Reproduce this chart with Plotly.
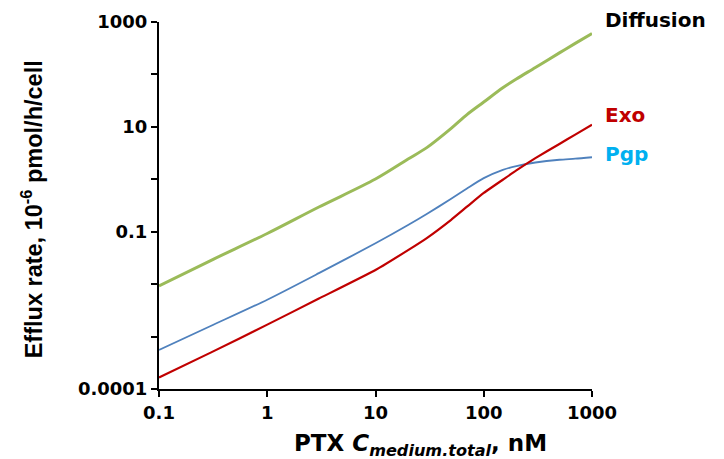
import plotly.graph_objects as go

# Data (log-log)
conc_nM = [0.1, 0.3, 1, 3, 10, 20, 30, 50, 70, 100, 150, 200, 300, 500, 700, 1000]
diffusion = [0.00923, 0.0282, 0.0925, 0.296, 1.01, 2.43, 4.06, 9.35, 17.1, 29.7, 55.6, 81.8, 135.5, 258, 391, 604]
pgp = [0.000555, 0.00159, 0.00505, 0.0162, 0.0601, 0.134, 0.220, 0.425, 0.667, 1.05, 1.51, 1.79, 2.09, 2.36, 2.47, 2.63]
exo = [0.000166, 0.000494, 0.00169, 0.0053, 0.0186, 0.0446, 0.0766, 0.169, 0.300, 0.548, 0.98, 1.48, 2.53, 4.72, 7.11, 11.0]

x_tickvals = [0.1, 1, 10, 100, 1000]
x_ticktext = ["0.1", "1", "10", "100", "1000"]
y_tickvals = [0.0001, 0.001, 0.01, 0.1, 1, 10, 100, 1000]
y_ticktext = ["0.0001", "", "", "0.1", "", "10", "", "1000"]

GREEN = "#9BBB59"
BLUE = "#4F81BD"
RED = "#C00000"
CYAN = "#00B0F0"
WIDE = "DejaVu Sans"
ARIAL = "Liberation Sans"

fig = go.Figure()
fig.add_trace(go.Scatter(x=conc_nM, y=diffusion, mode="lines", name="Diffusion",
                         line=dict(color=GREEN, width=3, shape="spline", smoothing=0.9)))
fig.add_trace(go.Scatter(x=conc_nM, y=pgp, mode="lines", name="Pgp",
                         line=dict(color=BLUE, width=1.8, shape="spline", smoothing=0.7)))
fig.add_trace(go.Scatter(x=conc_nM, y=exo, mode="lines", name="Exo",
                         line=dict(color=RED, width=2.2, shape="spline", smoothing=0.4)))

fig.update_layout(
    width=716, height=451,
    margin=dict(l=151, r=132, t=14, b=70),
    paper_bgcolor="white", plot_bgcolor="white",
    showlegend=False,
    font=dict(family=WIDE, color="black"),
)
fig.update_xaxes(type="log", range=[-1, 3], tickvals=x_tickvals, ticktext=x_ticktext,
                 automargin=False,
                 showgrid=False, zeroline=False, showline=True, linecolor="black", linewidth=2,
                 ticks="outside", ticklen=6, tickwidth=1.5, tickcolor="black",
                 tickfont=dict(family=WIDE, size=18, color="black", weight="bold"))
fig.update_yaxes(type="log", range=[-4, 3], tickvals=y_tickvals, ticktext=y_ticktext,
                 automargin=False,
                 showgrid=False, zeroline=False, showline=True, linecolor="black", linewidth=2,
                 ticks="outside", ticklen=6, tickwidth=1.5, tickcolor="black",
                 tickfont=dict(family=WIDE, size=18, color="black", weight="bold"))

annotations = [
    dict(text="<b>Diffusion</b>", x=1.025, y=1.005, xref="paper", yref="paper",
         xanchor="left", yanchor="middle", showarrow=False,
         font=dict(family=WIDE, size=20, color="black")),
    dict(text="<b>Exo</b>", x=1.025, y=0.747, xref="paper", yref="paper",
         xanchor="left", yanchor="middle", showarrow=False,
         font=dict(family=WIDE, size=20, color=RED)),
    dict(text="<b>Pgp</b>", x=1.025, y=0.640, xref="paper", yref="paper",
         xanchor="left", yanchor="middle", showarrow=False,
         font=dict(family=WIDE, size=20, color=CYAN)),
    dict(text="<b>PTX <i>C<sub>medium.total</sub></i>, nM</b>", x=0.603, y=-0.152,
         xref="paper", yref="paper", xanchor="center", yanchor="middle", showarrow=False,
         font=dict(family=WIDE, size=23, color="black")),
    dict(text="<b>Efflux rate, 10<sup>-6</sup> pmol/h/cell</b>", x=-0.293, y=0.49,
         xref="paper", yref="paper", xanchor="center", yanchor="middle", showarrow=False,
         textangle=-90, font=dict(family=ARIAL, size=23.5, color="black")),
]
fig.update_layout(annotations=annotations)

fig.write_html("out.html")
